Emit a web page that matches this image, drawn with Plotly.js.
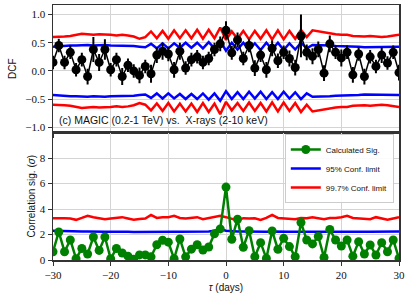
<!DOCTYPE html>
<html>
<head>
<meta charset="utf-8">
<script src="https://cdn.plot.ly/plotly-3.0.1.min.js"></script>
<style>html,body{margin:0;padding:0;background:#fff}#plot{width:407px;height:300px}</style>
</head>
<body>
<div id="plot"></div>
<script>
// Time lags (days)
const tau = [-30,-29,-28,-27,-26,-25,-24,-23,-22,-21,-20,-19,-18,-17,-16,-15,-14,-13,-12,-11,-10,-9,-8,-7,-6,-5,-4,-3,-2,-1,0,1,2,3,4,5,6,7,8,9,10,11,12,13,14,15,16,17,18,19,20,21,22,23,24,25,26,27,28,29,30];

// DCF values and errors (top panel)
const dcf = [0.15,0.45,0.15,0.33,0.02,0.20,-0.10,0.38,0.15,0.38,0.02,0.20,-0.10,0.10,0.00,-0.08,0.08,-0.05,0.28,0.35,0.30,0.02,0.35,0.05,0.20,0.25,0.15,0.22,0.38,0.48,0.72,0.32,0.55,0.22,0.45,0.05,0.28,0.02,0.40,0.18,0.33,0.22,0.06,0.62,0.33,0.26,0.38,-0.04,0.48,0.33,0.23,0.33,-0.07,0.30,-0.10,0.25,0.08,0.28,0.14,0.33,-0.03];
const dcfErr = [0.12,0.12,0.12,0.12,0.12,0.12,0.14,0.22,0.15,0.18,0.12,0.12,0.15,0.12,0.12,0.14,0.12,0.16,0.14,0.15,0.13,0.14,0.15,0.12,0.12,0.12,0.12,0.12,0.12,0.13,0.16,0.12,0.13,0.12,0.12,0.14,0.12,0.14,0.14,0.13,0.12,0.14,0.14,0.38,0.14,0.14,0.14,0.14,0.15,0.12,0.15,0.12,0.14,0.12,0.14,0.12,0.12,0.14,0.12,0.12,0.14];

// Confidence limits for the DCF (top panel)
const dcf95Up = [0.43,0.44,0.44,0.45,0.45,0.46,0.46,0.45,0.46,0.46,0.45,0.45,0.45,0.44,0.44,0.43,0.42,0.48,0.40,0.49,0.40,0.49,0.41,0.50,0.41,0.50,0.40,0.51,0.40,0.53,0.36,0.50,0.38,0.50,0.37,0.49,0.37,0.50,0.38,0.50,0.37,0.49,0.38,0.50,0.40,0.46,0.46,0.45,0.45,0.44,0.44,0.43,0.43,0.43,0.42,0.42,0.42,0.42,0.42,0.42,0.43];
const dcf95Lo = [-0.43,-0.44,-0.44,-0.45,-0.45,-0.46,-0.46,-0.45,-0.46,-0.46,-0.45,-0.45,-0.45,-0.44,-0.44,-0.43,-0.42,-0.48,-0.40,-0.49,-0.40,-0.49,-0.41,-0.50,-0.41,-0.50,-0.40,-0.51,-0.40,-0.53,-0.36,-0.50,-0.38,-0.50,-0.37,-0.49,-0.37,-0.50,-0.38,-0.50,-0.37,-0.49,-0.38,-0.50,-0.40,-0.46,-0.46,-0.45,-0.45,-0.44,-0.44,-0.43,-0.43,-0.43,-0.42,-0.42,-0.42,-0.42,-0.42,-0.42,-0.43];
const dcf997Up = [0.60,0.60,0.61,0.62,0.64,0.66,0.65,0.64,0.65,0.65,0.64,0.63,0.64,0.63,0.61,0.57,0.60,0.70,0.58,0.71,0.57,0.72,0.58,0.72,0.58,0.73,0.57,0.73,0.58,0.77,0.55,0.70,0.57,0.71,0.56,0.71,0.57,0.72,0.56,0.72,0.56,0.71,0.57,0.73,0.60,0.72,0.70,0.68,0.67,0.65,0.64,0.64,0.62,0.61,0.61,0.62,0.61,0.60,0.61,0.62,0.64];
const dcf997Lo = [-0.60,-0.60,-0.61,-0.62,-0.64,-0.66,-0.65,-0.64,-0.65,-0.65,-0.64,-0.63,-0.64,-0.63,-0.61,-0.57,-0.60,-0.70,-0.58,-0.71,-0.57,-0.72,-0.58,-0.72,-0.58,-0.73,-0.57,-0.73,-0.58,-0.77,-0.55,-0.70,-0.57,-0.71,-0.56,-0.71,-0.57,-0.72,-0.56,-0.72,-0.56,-0.71,-0.57,-0.73,-0.60,-0.72,-0.70,-0.68,-0.67,-0.65,-0.64,-0.64,-0.62,-0.61,-0.61,-0.62,-0.61,-0.60,-0.61,-0.62,-0.64];

// Correlation significance (bottom panel)
const sig = [0.65,2.2,0.65,1.57,0.1,0.9,0.47,1.8,0.75,1.8,0.1,0.9,0.55,0.3,0.05,0.4,0.4,0.25,1.2,1.55,1.4,0.1,1.65,0.25,0.85,1.2,0.78,1.02,2.05,2.44,5.72,1.63,3.2,1.0,2.3,0.26,1.36,0.13,2.28,0.84,1.7,1.05,0.26,2.94,1.57,1.26,1.84,0.2,2.4,1.57,1.1,1.57,0.3,1.44,0.47,1.18,0.39,1.36,0.65,1.57,0.13];
const sig95 = [2.30,2.28,2.25,2.24,2.22,2.23,2.24,2.22,2.23,2.22,2.22,2.23,2.24,2.22,2.20,2.21,2.22,2.22,2.21,2.23,2.22,2.22,2.21,2.22,2.22,2.21,2.22,2.24,2.30,2.42,2.30,2.25,2.24,2.23,2.22,2.22,2.21,2.22,2.24,2.22,2.22,2.21,2.22,2.23,2.22,2.22,2.22,2.21,2.22,2.22,2.22,2.23,2.22,2.24,2.22,2.22,2.22,2.21,2.22,2.22,2.23];
const sig997 = [3.28,3.30,3.28,3.25,3.15,3.30,3.47,3.35,3.25,3.20,3.25,3.30,3.36,3.25,3.15,3.22,3.25,3.54,3.30,3.35,3.35,3.47,3.30,3.25,3.30,3.36,3.20,3.28,3.35,3.46,3.36,3.20,3.10,3.28,3.25,3.28,3.15,3.30,3.54,3.30,3.28,3.25,3.20,3.30,3.28,3.36,3.25,3.20,3.30,3.30,3.36,3.46,3.30,3.28,3.25,3.20,3.36,3.28,3.15,3.25,3.36];

const annotationText = '(c) MAGIC (0.2-1 TeV) vs.  X-rays (2-10 keV)';

const blue = '#0000ff', red = '#ff0000', green = '#008000';
const traces = [
  {x: tau, y: dcf95Up, type: 'scatter', mode: 'lines', line: {color: blue, width: 2.5}, xaxis: 'x', yaxis: 'y', showlegend: false, hoverinfo: 'skip'},
  {x: tau, y: dcf95Lo, type: 'scatter', mode: 'lines', line: {color: blue, width: 2.5}, xaxis: 'x', yaxis: 'y', showlegend: false, hoverinfo: 'skip'},
  {x: tau, y: dcf997Up, type: 'scatter', mode: 'lines', line: {color: red, width: 2.5}, xaxis: 'x', yaxis: 'y', showlegend: false, hoverinfo: 'skip'},
  {x: tau, y: dcf997Lo, type: 'scatter', mode: 'lines', line: {color: red, width: 2.5}, xaxis: 'x', yaxis: 'y', showlegend: false, hoverinfo: 'skip'},
  {x: tau, y: dcf, type: 'scatter', mode: 'lines+markers', line: {color: 'black', width: 1.5},
   marker: {color: 'black', size: 9}, error_y: {type: 'data', array: dcfErr, color: 'black', thickness: 2, width: 0},
   xaxis: 'x', yaxis: 'y', showlegend: false},
  {x: tau, y: sig95, type: 'scatter', mode: 'lines', name: '95% Conf. limit', legendrank: 2, line: {color: blue, width: 2.5}, xaxis: 'x2', yaxis: 'y2'},
  {x: tau, y: sig997, type: 'scatter', mode: 'lines', name: '99.7% Conf. limit', legendrank: 3, line: {color: red, width: 2.5}, xaxis: 'x2', yaxis: 'y2'},
  {x: tau, y: sig, type: 'scatter', mode: 'lines+markers', name: 'Calculated Sig.', legendrank: 1, line: {color: green, width: 2.5}, marker: {color: green, size: 9}, xaxis: 'x2', yaxis: 'y2'}
];

const tickFont = {family: 'Liberation Serif, serif', size: 11, color: '#111'};
const titleFont = {family: 'Liberation Sans, sans-serif', size: 10, color: '#111'};
const axBase = {showline: true, linecolor: '#333', linewidth: 1.5, mirror: true, ticks: 'outside', ticklen: 4, tickwidth: 1, tickcolor: '#333',
  showgrid: true, gridcolor: '#d4d4d4', gridwidth: 1, zeroline: false, tickfont: tickFont};

const layout = {
  width: 407, height: 300,
  margin: {l: 53, r: 8, t: 5, b: 40},
  paper_bgcolor: '#fff', plot_bgcolor: '#fff',
  showlegend: true,
  legend: {x: 0.985, xanchor: 'right', y: 0.494, yanchor: 'top', bgcolor: 'rgba(255,255,255,0.9)', bordercolor: '#ccc', borderwidth: 1,
    font: {family: 'Liberation Sans, sans-serif', size: 8, color: '#111'}, tracegroupgap: 0, itemwidth: 30},
  xaxis: Object.assign({}, axBase, {domain: [0, 1], range: [-30, 30], anchor: 'y', showticklabels: false, tickvals: [-30,-20,-10,0,10,20,30]}),
  yaxis: Object.assign({}, axBase, {domain: [0.5, 1], range: [-1.094, 1.17], anchor: 'x', tickvals: [-1,-0.5,0,0.5,1], tickformat: '.1f',
    title: {text: 'DCF', font: titleFont, standoff: 7}}),
  xaxis2: Object.assign({}, axBase, {domain: [0, 1], range: [-30, 30], anchor: 'y2', tickvals: [-30,-20,-10,0,10,20,30],
    title: {text: '<i>τ</i> (days)', font: titleFont, standoff: 4}}),
  yaxis2: Object.assign({}, axBase, {domain: [0, 0.5], range: [0, 10], anchor: 'x2', tickvals: [0,2,4,6,8],
    title: {text: 'Correlation sig. (<i>σ</i>)', font: titleFont, standoff: 2}}),
  annotations: [{text: annotationText, xref: 'x', yref: 'y', x: -29.3, y: -0.87, xanchor: 'left', yanchor: 'middle', showarrow: false,
    font: {family: 'Liberation Sans, sans-serif', size: 10.5, color: '#111'}}]
};

Plotly.newPlot('plot', traces, layout, {displayModeBar: false, staticPlot: true});
</script>
</body>
</html>
